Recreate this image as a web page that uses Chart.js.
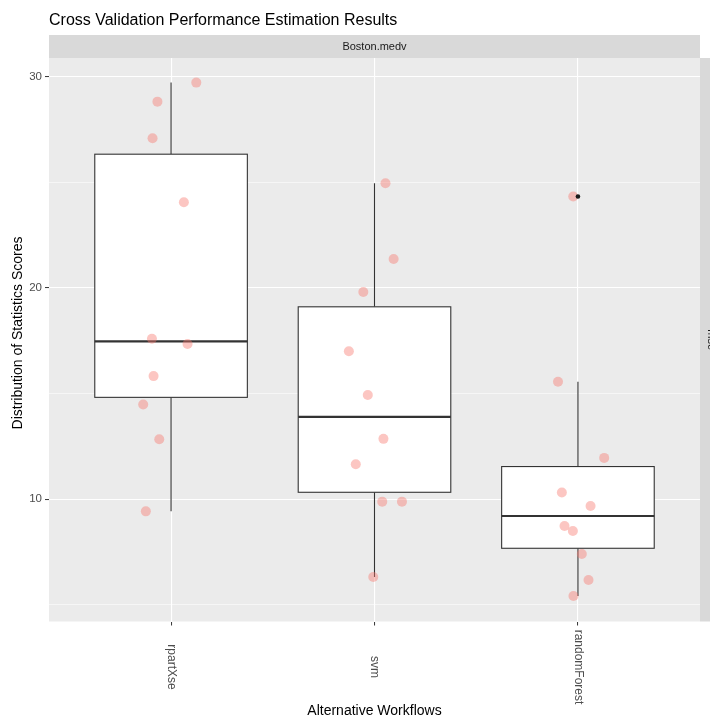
<!DOCTYPE html>
<html>
<head>
<meta charset="utf-8">
<script src="https://cdn.jsdelivr.net/npm/chart.js@4.4.1/dist/chart.umd.min.js"></script>
<style>
  html, body { margin: 0; padding: 0; background: #fff; }
  #wrap { width: 710px; height: 720px; }
</style>
</head>
<body>
<div id="wrap"><canvas id="chart" width="710" height="720"></canvas></div>
<script>
// Workflows on the x axis
const categories = ['rpartXse', 'svm', 'randomForest'];

// mse of the 10 CV folds for each workflow
const rpartScores = [29.72, 28.82, 27.09, 24.06, 17.60, 17.35, 15.83, 14.49, 12.84, 9.43];
const svmScores = [24.96, 21.37, 19.81, 17.01, 14.94, 12.86, 11.66, 9.89, 9.89, 6.32];
const rfScores = [24.33, 15.56, 11.96, 10.32, 9.68, 8.74, 8.50, 7.41, 6.18, 5.42];

// jittered x position of each point, in category units
const rpartJitter = [1.124, 0.933, 0.909, 1.063, 0.906, 1.081, 0.914, 0.863, 0.942, 0.876];
const svmJitter = [2.054, 2.094, 1.945, 1.874, 1.967, 2.044, 1.908, 2.038, 2.135, 1.994];
const rfJitter = [2.977, 2.902, 3.129, 2.921, 3.062, 2.934, 2.975, 3.019, 3.052, 2.978];

// y axis
const yTicks = [5, 10, 15, 20, 25, 30];
const yMajor = [10, 20, 30];

const FONT = "'Liberation Sans', Arial, Helvetica, sans-serif";
Chart.defaults.font.family = FONT;

// quantile type 7, like R
function quantile(sorted, p) {
  const h = (sorted.length - 1) * p;
  const lo = Math.floor(h);
  const hi = Math.ceil(h);
  return sorted[lo] + (h - lo) * (sorted[hi] - sorted[lo]);
}

function boxStats(values) {
  const s = values.slice().sort((a, b) => a - b);
  const q1 = quantile(s, 0.25);
  const med = quantile(s, 0.5);
  const q3 = quantile(s, 0.75);
  const iqr = q3 - q1;
  const lowFence = q1 - 1.5 * iqr;
  const highFence = q3 + 1.5 * iqr;
  const inside = s.filter(v => v >= lowFence && v <= highFence);
  return {
    q1, med, q3,
    lo: inside[0],
    hi: inside[inside.length - 1],
    out: s.filter(v => v < lowFence || v > highFence)
  };
}

const groups = [rpartScores, svmScores, rfScores];
const jitters = [rpartJitter, svmJitter, rfJitter];
const stats = groups.map(boxStats);

const pointData = [];
groups.forEach((g, i) => g.forEach((v, j) => pointData.push({ x: jitters[i][j], y: v })));

const outlierData = [];
stats.forEach((s, i) => s.out.forEach(v => outlierData.push({ x: i + 1, y: v })));

// panel background, strips and free text
const panelPlugin = {
  id: 'panel',
  beforeDraw(chart) {
    const { ctx, chartArea: a } = chart;
    ctx.save();
    ctx.fillStyle = '#EBEBEB';
    ctx.fillRect(a.left, a.top, a.right - a.left, a.bottom - a.top);
    ctx.fillStyle = '#D9D9D9';
    ctx.fillRect(a.left, 35, a.right - a.left, a.top - 35);
    ctx.fillRect(a.right, a.top, 30, a.bottom - a.top);

    ctx.fillStyle = '#000000';
    ctx.font = '16px ' + FONT;
    ctx.textAlign = 'left';
    ctx.textBaseline = 'alphabetic';
    ctx.fillText('Cross Validation Performance Estimation Results', a.left, 25);

    ctx.fillStyle = '#1A1A1A';
    ctx.font = '11px ' + FONT;
    ctx.textAlign = 'center';
    ctx.textBaseline = 'middle';
    ctx.fillText('Boston.medv', (a.left + a.right) / 2, 46.5);

    ctx.save();
    ctx.translate(a.right + 11.5, (a.top + a.bottom) / 2);
    ctx.rotate(Math.PI / 2);
    ctx.fillText('mse', 0, 0);
    ctx.restore();

    ctx.fillStyle = '#000000';
    ctx.font = '14px ' + FONT;
    ctx.save();
    ctx.translate(18, 333);
    ctx.rotate(-Math.PI / 2);
    ctx.fillText('Distribution of Statistics Scores', 0, 0);
    ctx.restore();

    const xs = chart.scales.x;
    ctx.fillStyle = '#4D4D4D';
    ctx.font = '12px ' + FONT;
    categories.forEach((c, i) => {
      ctx.save();
      ctx.translate(xs.getPixelForValue(i + 1), 667);
      ctx.rotate(Math.PI / 2);
      ctx.fillText(c, 0, 0);
      ctx.restore();
    });
    ctx.restore();
  }
};

// boxes and whiskers, under the points
const boxPlugin = {
  id: 'boxes',
  beforeDatasetsDraw(chart) {
    const { ctx } = chart;
    const xs = chart.scales.x;
    const ys = chart.scales.y;
    ctx.save();
    ctx.strokeStyle = '#333333';
    stats.forEach((s, i) => {
      const cx = xs.getPixelForValue(i + 1);
      const x0 = xs.getPixelForValue(i + 1 - 0.375);
      const x1 = xs.getPixelForValue(i + 1 + 0.375);
      const yq1 = ys.getPixelForValue(s.q1);
      const yq3 = ys.getPixelForValue(s.q3);
      const ymed = ys.getPixelForValue(s.med);

      ctx.lineWidth = 1.1;
      ctx.beginPath();
      ctx.moveTo(cx, ys.getPixelForValue(s.hi));
      ctx.lineTo(cx, yq3);
      ctx.moveTo(cx, yq1);
      ctx.lineTo(cx, ys.getPixelForValue(s.lo));
      ctx.stroke();

      ctx.fillStyle = '#FFFFFF';
      ctx.fillRect(x0, yq3, x1 - x0, yq1 - yq3);
      ctx.strokeRect(x0, yq3, x1 - x0, yq1 - yq3);

      ctx.lineWidth = 2.2;
      ctx.beginPath();
      ctx.moveTo(x0, ymed);
      ctx.lineTo(x1, ymed);
      ctx.stroke();
    });
    ctx.restore();
  }
};

const isMajor = v => yMajor.includes(v);

new Chart(document.getElementById('chart'), {
  type: 'scatter',
  data: {
    datasets: [
      {
        label: 'outliers',
        data: outlierData,
        order: 0,
        pointRadius: 2.3,
        pointBorderWidth: 0,
        backgroundColor: '#1A1A1A',
        borderColor: '#1A1A1A'
      },
      {
        label: 'folds',
        data: pointData,
        order: 1,
        pointRadius: 5,
        pointBorderWidth: 0,
        backgroundColor: 'rgba(248, 118, 109, 0.42)',
        borderColor: 'rgba(248, 118, 109, 0)'
      }
    ]
  },
  options: {
    responsive: false,
    animation: false,
    events: [],
    layout: { padding: { left: 0, top: 58, right: 10, bottom: 0 } },
    plugins: {
      legend: { display: false },
      tooltip: { enabled: false }
    },
    scales: {
      x: {
        type: 'linear',
        min: 0.4,
        max: 3.6,
        afterBuildTicks: scale => { scale.ticks = [1, 2, 3].map(v => ({ value: v })); },
        afterFit: scale => { scale.height = 98.5; },
        ticks: { display: false },
        grid: {
          color: '#FFFFFF',
          lineWidth: 1.1,
          tickColor: '#333333',
          tickLength: 4,
          tickWidth: 1
        },
        border: { display: false },
        title: {
          display: true,
          text: 'Alternative Workflows',
          color: '#000000',
          font: { size: 14 },
          padding: 0
        }
      },
      y: {
        type: 'linear',
        min: 4.217,
        max: 30.885,
        afterBuildTicks: scale => { scale.ticks = yTicks.map(v => ({ value: v })); },
        afterFit: scale => { scale.width = 49; },
        ticks: {
          color: '#4D4D4D',
          font: { size: 11.5 },
          padding: 3,
          callback: v => (isMajor(v) ? String(v) : '')
        },
        grid: {
          color: '#FFFFFF',
          lineWidth: c => (c.tick && isMajor(c.tick.value) ? 1.1 : 0.55),
          tickColor: c => (c.tick && isMajor(c.tick.value) ? '#333333' : 'rgba(0,0,0,0)'),
          tickLength: 4,
          tickWidth: 1
        },
        border: { display: false }
      }
    }
  },
  plugins: [panelPlugin, boxPlugin]
});
</script>
</body>
</html>
